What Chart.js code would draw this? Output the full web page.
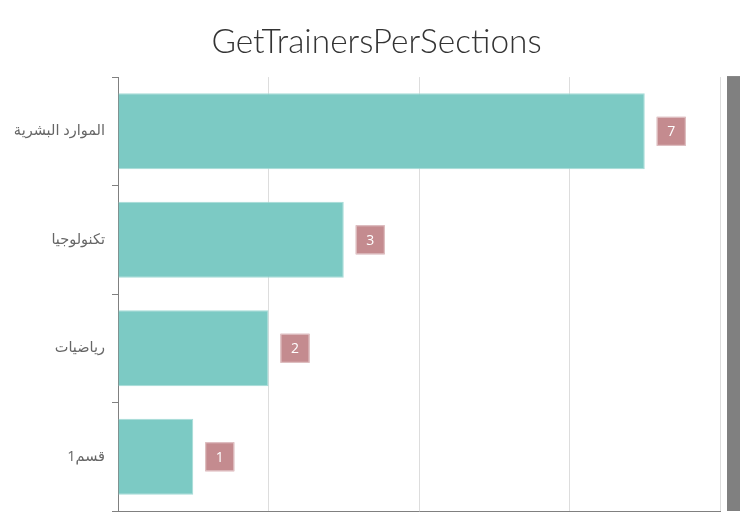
<!DOCTYPE html>
<html><head><meta charset="utf-8">
<script src="https://cdn.jsdelivr.net/npm/chart.js@4/dist/chart.umd.min.js"></script>
<style>html,body{margin:0;padding:0;background:#fff}#wrap{width:747px;height:520px}</style>
</head><body><div id="wrap"><canvas id="c" width="747" height="520"></canvas></div>
<script>
const categories = ["الموارد البشرية", "تكنولوجيا", "رياضيات", "قسم1"];
const values = [7, 3, 2, 1];
const chartTitle = "GetTrainersPerSections";
const xMax = 8;
const xStep = 2;

const labelPlugin = {
  id: 'boxLabels',
  afterDatasetsDraw(chart) {
    const ctx = chart.ctx;
    const meta = chart.getDatasetMeta(0);
    ctx.save();
    meta.data.forEach((bar, i) => {
      const w = 29, h = 29;
      const x0 = bar.x + 12, y0 = bar.y - h / 2;
      ctx.fillStyle = '#c48b8f';
      ctx.fillRect(x0, y0, w, h);
      ctx.strokeStyle = '#e2c6c8';
      ctx.lineWidth = 1;
      ctx.strokeRect(x0 + 0.5, y0 + 0.5, w - 1, h - 1);
      ctx.fillStyle = '#ffffff';
      ctx.font = '14px "Open Sans", sans-serif';
      ctx.textAlign = 'center';
      ctx.textBaseline = 'middle';
      ctx.fillText(String(values[i]), x0 + w / 2, bar.y + 1);
    });
    ctx.restore();
  }
};
const sideBarPlugin = {
  id: 'sideBar',
  afterLayout(chart) {
    if (chart.titleBlock) { chart.titleBlock.left = 6; chart.titleBlock.right = chart.width; }
  },
  afterDraw(chart) {
    const a = chart.chartArea, ctx = chart.ctx;
    ctx.save();
    ctx.fillStyle = '#808080';
    ctx.fillRect(a.right + 7, a.top - 1, 13, a.bottom - a.top + 1);
    ctx.restore();
  }
};

new Chart(document.getElementById('c'), {
  type: 'bar',
  data: {
    labels: categories,
    datasets: [{
      data: values,
      backgroundColor: '#7ccac4',
      borderColor: '#a5dbd7',
      borderWidth: 1,
      barPercentage: 0.7,
      categoryPercentage: 1
    }]
  },
  options: {
    indexAxis: 'y',
    responsive: false,
    animation: false,
    devicePixelRatio: 1,
    layout: { padding: { right: 27, bottom: 9, left: 0, top: 0 } },
    plugins: {
      legend: { display: false },
      tooltip: { enabled: false },
      title: {
        display: true,
        text: chartTitle,
        color: '#333333',
        font: { family: 'Lato, "Open Sans", sans-serif', size: 33.4, weight: '300' },
        padding: { top: 22, bottom: 15 }
      }
    },
    scales: {
      x: {
        min: 0, max: xMax,
        ticks: { display: false, stepSize: xStep },
        grid: { color: '#dddddd', drawTicks: false },
        border: { color: '#808080', width: 1 },
        afterFit(scale) { scale.height = 0; scale.paddingLeft = 0; scale.paddingRight = 0; }
      },
      y: {
        ticks: { color: '#666666', font: { family: '"Open Sans", "DejaVu Sans", sans-serif', size: 14.5 }, padding: 7 },
        grid: { offset: true, drawOnChartArea: false, tickLength: 6, color: '#808080' },
        border: { color: '#808080', width: 1 },
        afterFit(scale) { scale.width = 118; scale.paddingTop = 0; scale.paddingBottom = 0; }
      }
    }
  },
  plugins: [labelPlugin, sideBarPlugin]
});
</script>
</body></html>
